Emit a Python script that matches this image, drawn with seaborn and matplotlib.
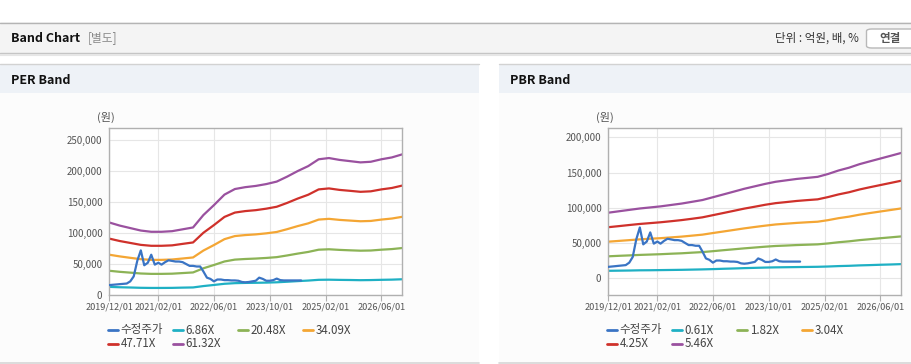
import numpy as np
import pandas as pd
import matplotlib
matplotlib.use("Agg")
import matplotlib.pyplot as plt
import seaborn as sns
from matplotlib.patches import Rectangle, FancyBboxPatch
from matplotlib.lines import Line2D

# %%
# data (values in 천원 -> multiplied by 1000 below)
band_dates = pd.date_range("2019-12-01", "2026-12-01", freq="3MS")
price_dates = pd.date_range("2019-12-01", periods=56, freq="MS")

price = [16, 16.5, 17, 17.5, 18, 18.5, 22, 30, 55, 72, 48, 52, 65, 49, 52, 49,
         53, 56, 55, 54, 54, 53, 50, 47, 47, 46, 46, 38, 28, 26, 22, 25,
         25, 24, 24, 23.5, 23.5, 23, 21, 20.5, 21, 22, 23, 28, 26, 23,
         23, 24, 26.5, 24, 23.5, 23.5, 23.5, 23.5, 23.5, 23.5]

per_labels = ["6.86X", "20.48X", "34.09X", "47.71X", "61.32X"]
per_686 = [13.1, 12.5, 12.1, 11.6, 11.4, 11.4, 11.5, 11.9, 12.2, 14.4, 16.2, 18.1, 19.1, 19.5, 19.7,
           20.0, 20.5, 21.4, 22.4, 23.3, 24.5, 24.7, 24.4, 24.2, 23.9, 24.1, 24.5, 24.8, 25.4]
per_2048 = [39.1, 37.4, 36.1, 34.7, 34.1, 34.1, 34.4, 35.4, 36.4, 43.1, 48.4, 54.1, 57.1, 58.1, 58.8,
            59.8, 61.1, 63.8, 66.8, 69.5, 73.1, 73.8, 72.8, 72.1, 71.5, 71.8, 73.1, 74.1, 75.8]
per_3409 = [65.0, 62.3, 60.0, 57.8, 56.7, 56.7, 57.3, 58.9, 60.6, 71.7, 80.6, 90.1, 95.1, 96.7, 97.8,
            99.5, 101.7, 106.2, 111.2, 115.6, 121.7, 122.9, 121.2, 120.1, 119.0, 119.5, 121.7, 123.4, 126.2]
per_4771 = [91.0, 87.1, 84.0, 80.9, 79.4, 79.4, 80.1, 82.5, 84.8, 100.4, 112.8, 126.0, 133.0, 135.4, 136.9,
            139.3, 142.4, 148.6, 155.6, 161.8, 170.4, 172.0, 169.6, 168.1, 166.5, 167.3, 170.4, 172.7, 176.6]
per_6132 = [117, 112, 108, 104, 102, 102, 103, 106, 109, 129, 145, 162, 171, 174, 176,
            179, 183, 191, 200, 208, 219, 221, 218, 216, 214, 215, 219, 222, 227]

pbr_labels = ["0.61X", "1.82X", "3.04X", "4.25X", "5.46X"]
pbr_061 = [10.4, 10.6, 10.8, 11.1, 11.2, 11.4, 11.6, 11.8, 12.1, 12.4, 12.8, 13.3, 13.7, 14.2, 14.6,
           15.0, 15.3, 15.5, 15.7, 15.9, 16.1, 16.5, 17.1, 17.5, 18.1, 18.5, 19.0, 19.4, 19.9]
pbr_182 = [31.0, 31.7, 32.3, 33.0, 33.5, 34.0, 34.7, 35.3, 36.2, 37.0, 38.3, 39.7, 41.0, 42.3, 43.5,
           44.7, 45.7, 46.3, 47.0, 47.5, 48.0, 49.3, 51.0, 52.3, 54.0, 55.3, 56.7, 58.0, 59.3]
pbr_304 = [51.8, 52.9, 54.0, 55.1, 56.0, 56.8, 57.9, 59.0, 60.4, 61.8, 64.1, 66.3, 68.5, 70.7, 72.7,
           74.6, 76.3, 77.4, 78.5, 79.4, 80.2, 82.4, 85.2, 87.4, 90.2, 92.5, 94.7, 96.9, 99.1]
pbr_425 = [72.4, 73.9, 75.5, 77.0, 78.2, 79.4, 80.9, 82.5, 84.4, 86.4, 89.5, 92.6, 95.7, 98.8, 101.5,
           104.3, 106.6, 108.1, 109.7, 110.9, 112.0, 115.2, 119.0, 122.1, 126.0, 129.2, 132.3, 135.4, 138.5]
pbr_546 = [93, 95, 97, 99, 100.5, 102, 104, 106, 108.5, 111, 115, 119, 123, 127, 130.5,
           134, 137, 139, 141, 142.5, 144, 148, 153, 157, 162, 166, 170, 174, 178]

tick_dates = ["2019-12-01", "2021-02-01", "2022-06-01", "2023-10-01", "2025-02-01", "2026-06-01"]
tick_labels = ["2019/12/01", "2021/02/01", "2022/06/01", "2023/10/01", "2025/02/01", "2026/06/01"]

colors = ["#3a74c4", "#1fb0c4", "#8cb356", "#f4a634", "#cf312b", "#9a519f"]

# %%
sns.set_theme(style="white")
plt.rcParams["font.family"] = ["Noto Sans CJK KR", "DejaVu Sans"]

W, H = 912, 364
fig = plt.figure(figsize=(W / 100, H / 100), dpi=100)


def box(x0, y0, x1, y1, **kw):
    fig.add_artist(Rectangle((x0 / W, 1 - y1 / H), (x1 - x0) / W, (y1 - y0) / H,
                             transform=fig.transFigure, zorder=-10, **kw))


def hline(x0, x1, y, color, lw=1, z=-5):
    fig.add_artist(Line2D([x0 / W, x1 / W], [1 - y / H, 1 - y / H], color=color, lw=lw,
                          transform=fig.transFigure, zorder=z))


def ftext(x, y, s, **kw):
    fig.text(x / W, 1 - y / H, s, **kw)


# page header
box(0, 22, W, 53, facecolor="#f4f4f4", edgecolor="none")
hline(0, W, 22.5, "#b4b4b4")
hline(0, W, 53, "#c4c4c4")
hline(0, W, 54.5, "#e6e6e6", lw=1.5)
ftext(11, 38, "Band Chart", fontsize=9, fontweight="bold", color="#111111", va="center")
ftext(88, 38, "[별도]", fontsize=8.5, color="#8a8a8a", va="center")
ftext(859, 38.5, "단위 : 억원, 배, %", fontsize=8.3, color="#333333", va="center", ha="right")
fig.add_artist(FancyBboxPatch((866.5 / W, 1 - 48 / H), 50 / W, 19 / H,
                              boxstyle="round,pad=0,rounding_size=0.006",
                              transform=fig.transFigure, facecolor="white", edgecolor="#b8b8b8", lw=1))
ftext(890, 38.5, "연결", fontsize=8.3, color="#555555", va="center", ha="center", fontweight="bold")

# panels
for px0, px1, title in [(0, 479, "PER Band"), (499, W, "PBR Band")]:
    box(px0, 64, px1, 92.5, facecolor="#eef2f7", edgecolor="none")
    box(px0, 92.5, px1, 362, facecolor="#fcfcfc", edgecolor="none")
    hline(px0, px1, 64.3, "#d2d2d2")
    hline(px0, px1, 362.5, "#d6d6d6", lw=1.2)
    ftext(px0 + 11, 80, title, fontsize=9, fontweight="bold", color="#111111", va="center")


def draw_band(left, band_lists, labels, yticks, ylim):
    ax = fig.add_axes([left / W, 1 - 295 / H, 293 / W, (295 - 128.3) / H])
    ax.set_facecolor("white")

    rows = [pd.DataFrame({"date": price_dates, "value": np.array(price) * 1000, "series": "수정주가"})]
    for lab, vals in zip(labels, band_lists):
        rows.append(pd.DataFrame({"date": band_dates, "value": np.array(vals) * 1000, "series": lab}))
    df = pd.concat(rows, ignore_index=True)
    order = ["수정주가"] + labels

    # bands first, price on top
    sns.lineplot(data=df[df["series"] != "수정주가"], x="date", y="value", hue="series",
                 hue_order=labels, palette=colors[1:], linewidth=1.6, legend=False, ax=ax, zorder=2)
    sns.lineplot(data=df[df["series"] == "수정주가"], x="date", y="value", color=colors[0],
                 linewidth=1.6, legend=False, ax=ax, zorder=3)

    ax.set_xlim(pd.Timestamp("2019-12-01"), pd.Timestamp("2026-12-01"))
    ax.set_ylim(*ylim)
    ax.set_xticks(pd.to_datetime(tick_dates))
    ax.set_xticklabels(tick_labels)
    ax.set_yticks(yticks)
    ax.set_yticklabels([f"{v:,}" for v in yticks])
    ax.set_xlabel("")
    ax.set_ylabel("")
    ax.grid(True, color="#e6e6e6", lw=0.8)
    ax.set_axisbelow(True)
    for s in ax.spines.values():
        s.set_color("#b0b0b0")
        s.set_linewidth(1)
    ax.tick_params(axis="x", length=4, width=0.8, color="#b0b0b0", pad=1.5,
                   labelsize=6.6, labelcolor="#555555", bottom=True)
    ax.tick_params(axis="y", length=0, pad=5, labelsize=7, labelcolor="#555555")

    ftext(left - 3, 117, "(원)", fontsize=8, color="#555555", va="center", ha="center")

    # legend, two rows of four fixed-width columns
    for i, (lab, c) in enumerate(zip(order, colors)):
        lx = left - 1.5 + 65 * (i % 4)
        ly = 330 + 13.5 * (i // 4)
        hline(lx, lx + 10, ly, c, lw=2, z=2)
        ftext(lx + 13, ly, lab, fontsize=8.3, color="#444444", va="center")
    return ax


ax1 = draw_band(109.3, [per_686, per_2048, per_3409, per_4771, per_6132], per_labels,
                [0, 50000, 100000, 150000, 200000, 250000], (0, 269000))
ax2 = draw_band(608.3, [pbr_061, pbr_182, pbr_304, pbr_425, pbr_546], pbr_labels,
                [0, 50000, 100000, 150000, 200000], (-24000, 213000))

fig.savefig("out.png", dpi=100)
